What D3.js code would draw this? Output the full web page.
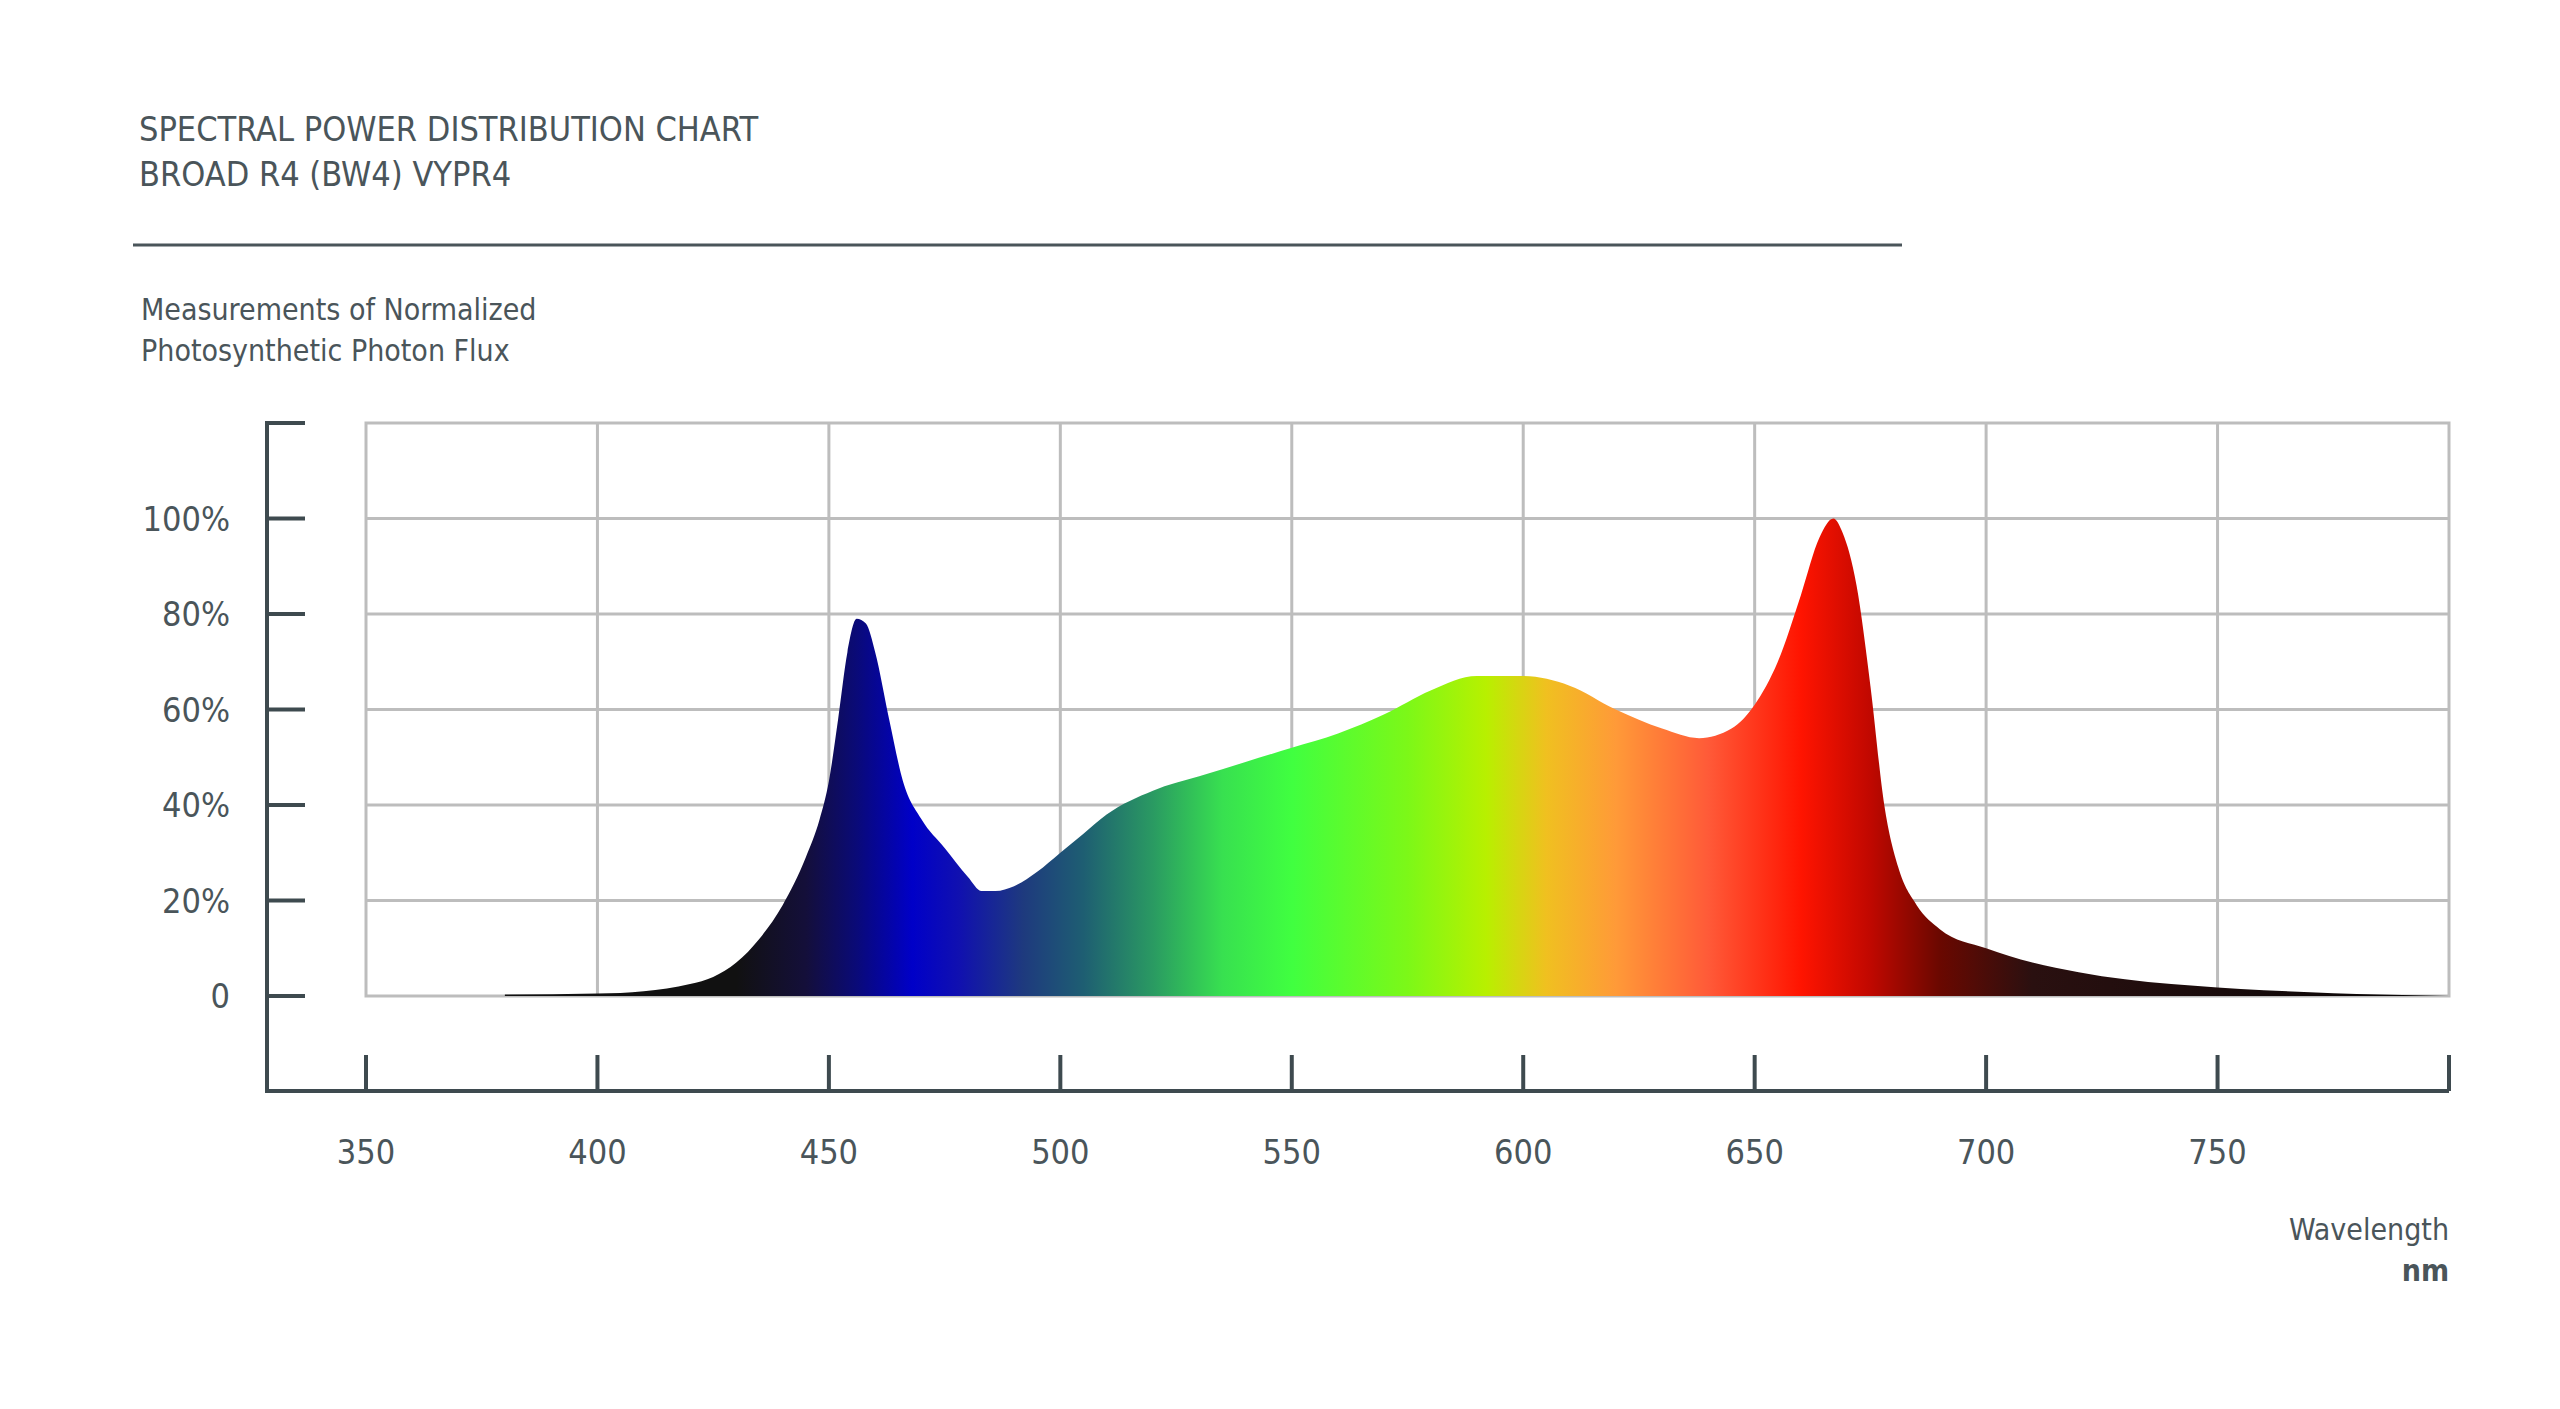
<!DOCTYPE html>
<html><head><meta charset="utf-8">
<script src="https://cdn.jsdelivr.net/npm/d3@7"></script>
<style>body{margin:0;background:#fff}text{font-family:"Liberation Sans Narrow","DejaVu Sans Condensed",sans-serif;fill:#4a555a}</style>
</head><body>
<svg id="c" width="2560" height="1409"></svg>
<script>
const wavelengths=[380,400,410,420,425,430,435,440,445,448,450,452,454,456,458,460,463,466,470,475,480,483,486,490,495,500,505,510,520,530,540,550,560,570,580,590,600,610,620,630,638,645,650,655,660,664,667,669,672,675,678,681,685,690,700,710,720,730,740,750,760,770,780,790,800];
const flux=[0.3,0.5,1,2.5,4,7,12,19,29,37,45,58,72,79,78,72,58,45,37,31,25,22,22,23,26,30,34,38,43,46,49,52,55,59,64,67,67,65,60,56,54,56,61,70,84,96,100,97,86,65,40,27,19,14,10,7,5,3.5,2.5,1.8,1.2,0.8,0.4,0.2,0];
const xTicks=[350,400,450,500,550,600,650,700,750,800];
const xTickLabels=["350","400","450","500","550","600","650","700","750"];
const yTicks=[0,20,40,60,80,100];
const yTickLabels=["0","20%","40%","60%","80%","100%"];
const gradStops=[[430,"#111111"],[445,"#140f3a"],[456,"#0a0a78"],[468,"#0000c8"],[478,"#1010b0"],[492,"#1e3a7e"],[505,"#1e5e72"],[520,"#2a9a62"],[535,"#38e050"],[550,"#40ff40"],[575,"#7cf818"],[592,"#b8f000"],[605,"#f0c020"],[620,"#ff9a38"],[640,"#ff5a38"],[660,"#ff1400"],[675,"#c00800"],[690,"#6a0800"],[710,"#2a1010"],[800,"#050505"]];

const svg=d3.select("#c");
const x=d3.scaleLinear().domain([350,800]).range([366,2449]);
const y=d3.scaleLinear().domain([0,120]).range([996,423]);

// titles
svg.append("text").attr("x",139).attr("y",141).attr("font-size",34).text("SPECTRAL POWER DISTRIBUTION CHART");
svg.append("text").attr("x",139).attr("y",186).attr("font-size",34).text("BROAD R4 (BW4) VYPR4");
svg.append("line").attr("x1",133).attr("x2",1902).attr("y1",245).attr("y2",245).attr("stroke","#4a555a").attr("stroke-width",3);
svg.append("text").attr("x",141).attr("y",320).attr("font-size",30).text("Measurements of Normalized");
svg.append("text").attr("x",141).attr("y",361).attr("font-size",30).text("Photosynthetic Photon Flux");

// grid
const g=svg.append("g").attr("stroke","#bdbdbd").attr("stroke-width",3).attr("fill","none");
g.append("rect").attr("x",x(350)).attr("y",y(120)).attr("width",x(800)-x(350)).attr("height",y(0)-y(120));
g.selectAll(".v").data(xTicks.slice(1,-1)).join("line").attr("x1",d=>x(d)).attr("x2",d=>x(d)).attr("y1",y(120)).attr("y2",y(0));
g.selectAll(".h").data(yTicks.slice(1)).join("line").attr("x1",x(350)).attr("x2",x(800)).attr("y1",d=>y(d)).attr("y2",d=>y(d));

// gradient area
const grad=svg.append("defs").append("linearGradient").attr("id","sp").attr("gradientUnits","userSpaceOnUse")
 .attr("x1",x(350)).attr("x2",x(800)).attr("y1",0).attr("y2",0);
grad.selectAll("stop").data(gradStops).join("stop").attr("offset",d=>(d[0]-350)/450).attr("stop-color",d=>d[1]);
const data=wavelengths.map((w,i)=>[w,flux[i]]);
svg.append("path").datum(data).attr("fill","url(#sp)")
 .attr("d",d3.area().x(d=>x(d[0])).y0(y(0)).y1(d=>y(d[1])).curve(d3.curveMonotoneX));

// axes frame
const ax="#3e4a4f";
const yl=d3.scaleLinear().domain([0,120]).range([996,423]);
svg.append("path").attr("d",`M305,423H267V1091H${x(800)}`).attr("fill","none").attr("stroke",ax).attr("stroke-width",4);
svg.selectAll(".yt").data(yTicks).join("line").attr("x1",267).attr("x2",305).attr("y1",d=>yl(d)).attr("y2",d=>yl(d)).attr("stroke",ax).attr("stroke-width",4);
svg.selectAll(".xt").data(xTicks).join("line").attr("x1",d=>x(d)).attr("x2",d=>x(d)).attr("y1",1055).attr("y2",1091).attr("stroke",ax).attr("stroke-width",4);
svg.selectAll(".yl").data(yTickLabels).join("text").attr("x",230).attr("y",(d,i)=>yl(yTicks[i])+12).attr("text-anchor","end").attr("font-size",34).text(d=>d);
svg.selectAll(".xl").data(xTickLabels).join("text").attr("x",(d,i)=>x(xTicks[i])).attr("y",1164).attr("text-anchor","middle").attr("font-size",34).text(d=>d);
svg.append("text").attr("x",2449).attr("y",1240).attr("text-anchor","end").attr("font-size",30).text("Wavelength");
svg.append("text").attr("x",2449).attr("y",1281).attr("text-anchor","end").attr("font-size",30).attr("font-weight","bold").text("nm");
</script></body></html>
